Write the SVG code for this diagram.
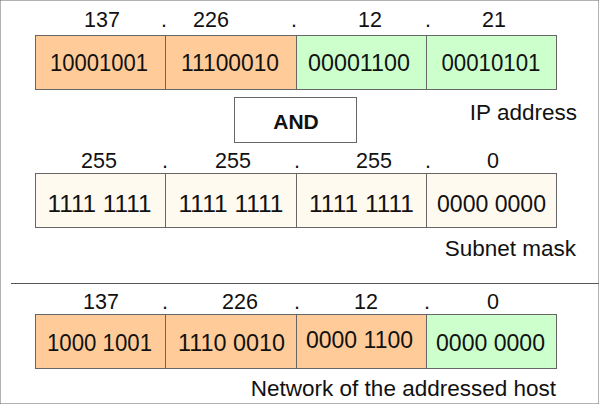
<svg xmlns="http://www.w3.org/2000/svg" width="599" height="404" viewBox="0 0 599 404">
<style>
  text { font-family: "Liberation Sans", Arial, sans-serif; fill: #111; }
  .lbl { font-size: 21.5px; text-anchor: middle; }
  .bits1 { font-size: 23px; text-anchor: middle; }
  .bits { font-size: 24.5px; text-anchor: middle; }
  .cap { font-size: 22.5px; text-anchor: end; }
  .and { font-size: 21px; font-weight: bold; text-anchor: middle; }
  rect { stroke: #666; stroke-width: 1; }
  .o { fill: #FFCC99; }
  .g { fill: #CCFFCC; }
  .c { fill: #FFFAF0; }
</style>
<rect width="599" height="404" fill="#fff" stroke="none"/>

<g id="ip-row">
  <text class="lbl" x="102" y="27">137</text>
  <text class="lbl" x="164" y="27">.</text>
  <text class="lbl" x="211" y="27">226</text>
  <text class="lbl" x="294" y="27">.</text>
  <text class="lbl" x="370" y="27">12</text>
  <text class="lbl" x="428" y="27">.</text>
  <text class="lbl" x="494" y="27">21</text>
  <rect class="o" x="35.5" y="35.5" width="130" height="54"/>
  <rect class="o" x="165.5" y="35.5" width="131" height="54"/>
  <rect class="g" x="296.5" y="35.5" width="130" height="54"/>
  <rect class="g" x="426.5" y="35.5" width="130" height="54"/>
  <text class="bits1" x="99" y="71" textLength="98" lengthAdjust="spacingAndGlyphs">10001001</text>
  <text class="bits1" x="230" y="71" textLength="98" lengthAdjust="spacingAndGlyphs">11100010</text>
  <text class="bits1" x="359" y="71" textLength="102" lengthAdjust="spacingAndGlyphs">00001100</text>
  <text class="bits1" x="491" y="71" textLength="99" lengthAdjust="spacingAndGlyphs">00010101</text>
</g>

<g id="and-op">
  <rect x="234.5" y="97.5" width="122" height="45" fill="#fff"/>
  <text class="and" x="296" y="129">AND</text>
</g>
<text class="cap" x="577" y="120">IP address</text>

<g id="mask-row">
  <text class="lbl" x="99" y="168">255</text>
  <text class="lbl" x="165" y="168">.</text>
  <text class="lbl" x="233" y="168">255</text>
  <text class="lbl" x="297" y="168">.</text>
  <text class="lbl" x="374" y="168">255</text>
  <text class="lbl" x="428" y="168">.</text>
  <text class="lbl" x="493" y="168">0</text>
  <rect class="c" x="35.5" y="173.5" width="130" height="54"/>
  <rect class="c" x="165.5" y="173.5" width="131" height="54"/>
  <rect class="c" x="296.5" y="173.5" width="130" height="54"/>
  <rect class="c" x="426.5" y="173.5" width="130" height="54"/>
  <text class="bits" x="99.5" y="212" textLength="104" lengthAdjust="spacingAndGlyphs">1111 1111</text>
  <text class="bits" x="231" y="212" textLength="105" lengthAdjust="spacingAndGlyphs">1111 1111</text>
  <text class="bits" x="361.5" y="212" textLength="105" lengthAdjust="spacingAndGlyphs">1111 1111</text>
  <text class="bits" x="491.5" y="212" textLength="109" lengthAdjust="spacingAndGlyphs">0000 0000</text>
</g>
<text class="cap" x="576" y="256">Subnet mask</text>

<line x1="11" y1="283.5" x2="599" y2="283.5" stroke="#555" stroke-width="1"/>

<g id="network-row">
  <text class="lbl" x="101" y="309">137</text>
  <text class="lbl" x="165" y="309">.</text>
  <text class="lbl" x="240" y="309">226</text>
  <text class="lbl" x="297" y="309">.</text>
  <text class="lbl" x="366" y="309">12</text>
  <text class="lbl" x="427" y="309">.</text>
  <text class="lbl" x="493" y="309">0</text>
  <rect class="o" x="35.5" y="314.5" width="130" height="54"/>
  <rect class="o" x="165.5" y="314.5" width="131" height="54"/>
  <rect class="o" x="296.5" y="314.5" width="130" height="54"/>
  <rect class="g" x="426.5" y="314.5" width="130" height="54"/>
  <text class="bits" x="99.5" y="351" textLength="105" lengthAdjust="spacingAndGlyphs">1000 1001</text>
  <text class="bits" x="231.5" y="351" textLength="107" lengthAdjust="spacingAndGlyphs">1110 0010</text>
  <text class="bits" x="359.5" y="348" textLength="107" lengthAdjust="spacingAndGlyphs">0000 1100</text>
  <text class="bits" x="490.5" y="351" textLength="109" lengthAdjust="spacingAndGlyphs">0000 0000</text>
</g>
<text class="cap" x="556" y="396">Network of the addressed host</text>
</svg>
